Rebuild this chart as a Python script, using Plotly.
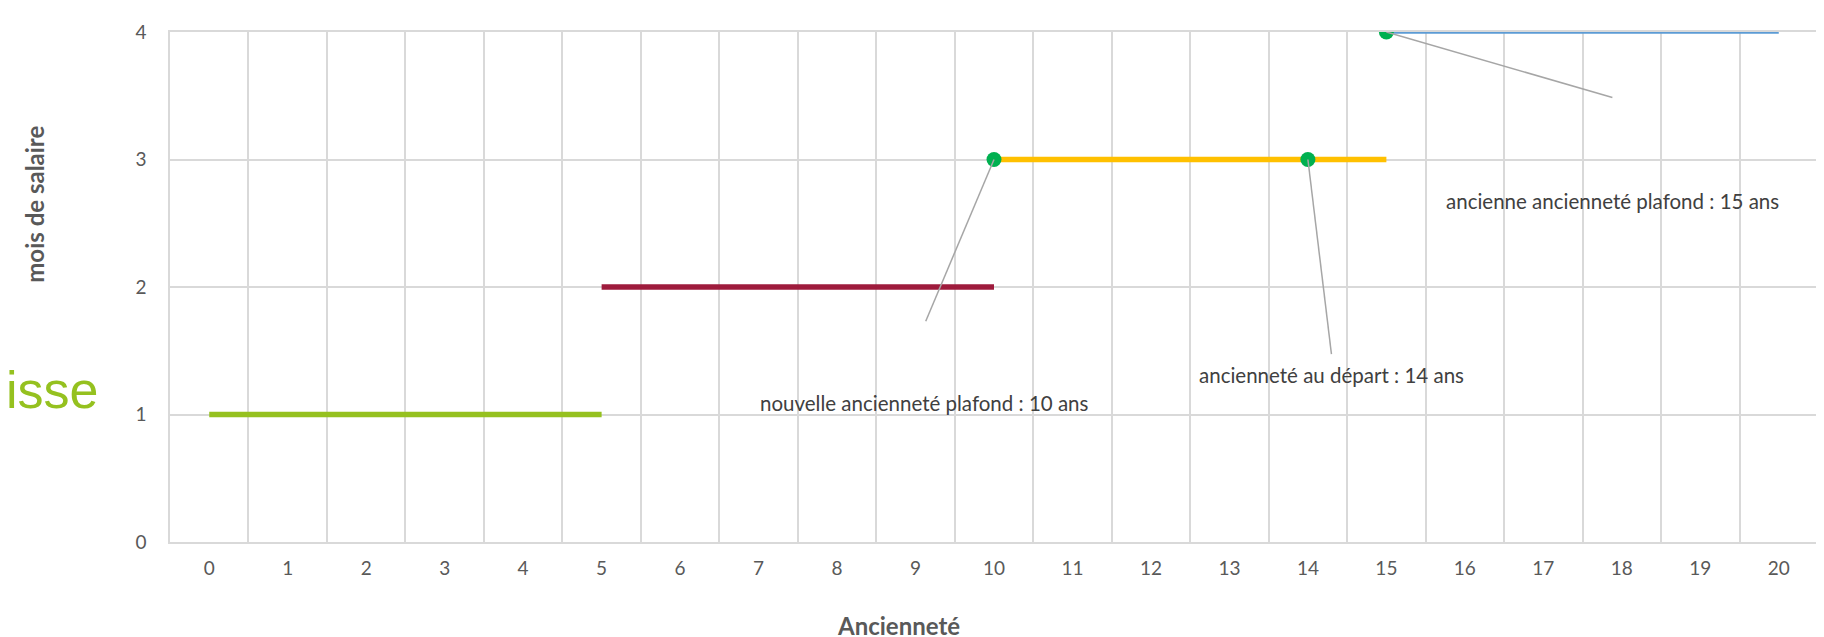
import plotly.graph_objects as go

# ---- data ----
anciennete = list(range(21))
mois_ticks = [0, 1, 2, 3, 4]

seg1_x = [0, 5];   seg1_y = [1, 1]
seg2_x = [5, 10];  seg2_y = [2, 2]
seg3_x = [10, 15]; seg3_y = [3, 3]
seg4_x = [15, 20]; seg4_y = [4, 4]

pts_x = [10, 14, 15]
pts_y = [3, 3, 4]

labels = [
    "nouvelle ancienneté plafond : 10 ans",
    "ancienneté au départ : 14 ans",
    "ancienne ancienneté plafond : 15 ans",
]
label_x = [9.11, 14.30, 17.88]
label_y = [1.087, 1.311, 2.676]
leader_x = [9.13, 14.30, 17.88]
leader_y = [1.732, 1.473, 3.486]

FONT = "Lato"
GRID = "#D9D9D9"
TXT = "#595959"
ANN = "#404040"

fig = go.Figure()
fig.add_trace(go.Scatter(x=seg1_x, y=seg1_y, mode="lines",
                         line=dict(color="#95C11F", width=5.5), showlegend=False))
fig.add_trace(go.Scatter(x=seg2_x, y=seg2_y, mode="lines",
                         line=dict(color="#9E1B3C", width=5.5), showlegend=False))
fig.add_trace(go.Scatter(x=seg3_x, y=seg3_y, mode="lines",
                         line=dict(color="#FFC000", width=5.5), showlegend=False))
fig.add_trace(go.Scatter(x=seg4_x, y=seg4_y, mode="lines",
                         line=dict(color="#5B9BD5", width=3.5), showlegend=False))
fig.add_trace(go.Scatter(x=pts_x, y=pts_y, mode="markers",
                         marker=dict(color="#00B050", size=15), showlegend=False))

for px, py, lx, ly in zip(pts_x, pts_y, leader_x, leader_y):
    fig.add_shape(type="line", xref="x", yref="y", x0=px, y0=py, x1=lx, y1=ly,
                  line=dict(color="#A6A6A6", width=1.5))

for t, lx, ly in zip(labels, label_x, label_y):
    fig.add_annotation(x=lx, y=ly, xref="x", yref="y", text=t, showarrow=False,
                       xanchor="center", yanchor="middle",
                       font=dict(family=FONT, size=20.5, color=ANN))

# axis titles
fig.add_annotation(x=-0.082, y=0.663, xref="paper", yref="paper",
                   xanchor="center", yanchor="middle",
                   text="<b>mois de salaire</b>", textangle=-90, showarrow=False,
                   font=dict(family=FONT, size=24, color=TXT))
fig.add_annotation(x=0.442, y=-0.197, xref="paper", yref="paper",
                   xanchor="center", yanchor="bottom",
                   text="<b>Ancienneté</b>", showarrow=False,
                   font=dict(family=FONT, size=24, color=TXT))
# cropped green text on the left edge
fig.add_annotation(x=-0.0425, y=0.237, xref="paper", yref="paper",
                   xanchor="right", yanchor="bottom",
                   text="isse", showarrow=False,
                   font=dict(family="Liberation Sans", size=52, color="#95C11F"))

fig.update_xaxes(range=[-0.5, 20.5], tickmode="array", tickvals=anciennete,
                 ticktext=[str(v) for v in anciennete], showgrid=False,
                 ticks="outside", ticklen=8, tickcolor="rgba(0,0,0,0)",
                 tickfont=dict(family=FONT, size=19, color=TXT),
                 showline=True, linecolor=GRID, linewidth=1.5, mirror=True,
                 zeroline=False,
                 minor=dict(tickmode="array", tickvals=[v - 0.5 for v in anciennete] + [20.5],
                            showgrid=True, gridcolor=GRID, gridwidth=1.5, ticks=""))
fig.update_yaxes(range=[0, 4], tickmode="array", tickvals=mois_ticks,
                 showgrid=True, gridcolor=GRID, gridwidth=1.5,
                 ticks="outside", ticklen=18, tickcolor="rgba(0,0,0,0)",
                 tickfont=dict(family=FONT, size=19, color=TXT),
                 showline=True, linecolor=GRID, linewidth=1.5, mirror=True,
                 zeroline=False)

fig.update_layout(width=1824, height=637,
                  margin=dict(l=162, r=14, t=17, b=103),
                  plot_bgcolor="white", paper_bgcolor="white")

fig.write_html("out.html")
